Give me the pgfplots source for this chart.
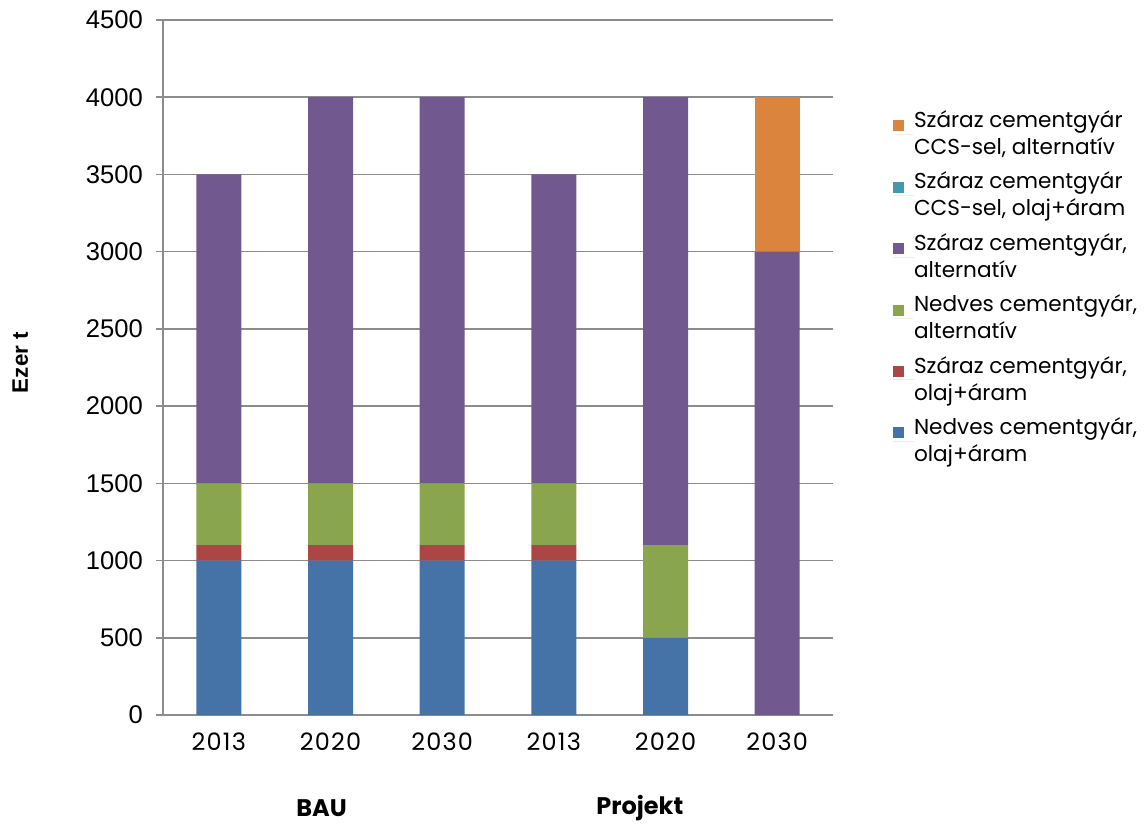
\documentclass[border=0pt]{standalone}
\usepackage{fontspec}
\setmainfont{Poppins}
\newfontfamily\arialfont{Liberation Sans}
\newfontfamily\tickfont[LetterSpace=5]{Poppins}
\usepackage{pgfplots}
\pgfplotsset{compat=1.18}
\usetikzlibrary{calc}

\definecolor{cblue}{HTML}{4572A7}
\definecolor{cred}{HTML}{AA4643}
\definecolor{cgreen}{HTML}{89A54E}
\definecolor{cpurple}{HTML}{71588F}
\definecolor{cteal}{HTML}{4198AF}
\definecolor{corange}{HTML}{DB843D}
\definecolor{gridgray}{HTML}{8C8C8C}

\begin{document}
\begin{tikzpicture}
\begin{axis}[
  name=ax,
  scale only axis,
  width=335pt, height=347.5pt,
  ybar stacked, bar width=22.5pt,
  xmin=-0.5, xmax=5.5, ymin=0, ymax=4500,
  ytick={0,500,...,4500},
  xtick={0,...,5},
  xticklabels={2013,2020,2030,2013,2020,2030},
  minor xtick={-0.5,0.5,...,5.5},
  axis x line=bottom, axis y line=left,
  axis line style={-, gridgray, line width=0.8pt},
  ymajorgrids, major grid style={gridgray, line width=0.8pt},
  tick align=outside,
  major tick length=3.5pt, minor tick length=4pt,
  xtick style={draw=none},
  minor x tick style={gridgray, line width=0.8pt},
  ytick style={gridgray, line width=0.8pt},
  /pgf/number format/assume math mode=true,
  /pgf/number format/1000 sep={},
  yticklabel style={font=\arialfont\fontsize{12.8}{14}\selectfont, xshift=-3pt},
  xticklabel style={font=\tickfont\fontsize{12}{14}\selectfont, yshift=-2pt},
  ylabel={Ezer t},
  ylabel style={font=\arialfont\bfseries\fontsize{11.2}{13}\selectfont,
    at={(axis description cs:-0.213,0.507)}, anchor=center},
  clip=false,
  legend cell align=left,
  reverse legend,
  legend style={draw=none, fill=none,
    at={(axis description cs:1.08,0.876)}, anchor=north west,
    font=\fontsize{10.8}{13.5}\selectfont,
    row sep=7.3pt,
    nodes={align=left, inner sep=0pt, outer sep=0pt},
  },
  legend image code/.code={\fill[#1] (0pt,1.5pt) rectangle (5.5pt,7pt);
    \path (0pt,0pt) -- (10.5pt,0pt);},
  every axis plot/.append style={draw=none},
]
% Nedves cementgyár, olaj+áram
\addplot[fill=cblue] coordinates {(0,1000) (1,1000) (2,1000) (3,1000) (4,500) (5,0)};
% Száraz cementgyár, olaj+áram
\addplot[fill=cred] coordinates {(0,100) (1,100) (2,100) (3,100) (4,0) (5,0)};
% Nedves cementgyár, alternatív
\addplot[fill=cgreen] coordinates {(0,400) (1,400) (2,400) (3,400) (4,600) (5,0)};
% Száraz cementgyár, alternatív
\addplot[fill=cpurple] coordinates {(0,2000) (1,2500) (2,2500) (3,2000) (4,2900) (5,3000)};
% Száraz cementgyár CCS-sel, olaj+áram
\addplot[fill=cteal] coordinates {(0,0) (1,0) (2,0) (3,0) (4,0) (5,0)};
% Száraz cementgyár CCS-sel, alternatív
\addplot[fill=corange] coordinates {(0,0) (1,0) (2,0) (3,0) (4,0) (5,1000)};
\legend{{Nedves cementgyár,\\olaj+áram},
        {Száraz cementgyár,\\olaj+áram},
        {Nedves cementgyár,\\alternatív},
        {Száraz cementgyár,\\alternatív},
        {Száraz cementgyár\\CCS-sel, olaj+áram},
        {Száraz cementgyár\\CCS-sel, alternatív}}
% scenario group labels
\node[font=\bfseries\fontsize{12}{14}\selectfont] at (axis cs:0.92,-602) {BAU};
\node[font=\bfseries\fontsize{12}{14}\selectfont] at (axis cs:3.77,-602) {Projekt};
\end{axis}
\pgfresetboundingbox
\path ($(ax.south west)+(-81.5pt,-55pt)$) rectangle ($(ax.north east)+(156.5pt,10pt)$);
\end{tikzpicture}
\end{document}
